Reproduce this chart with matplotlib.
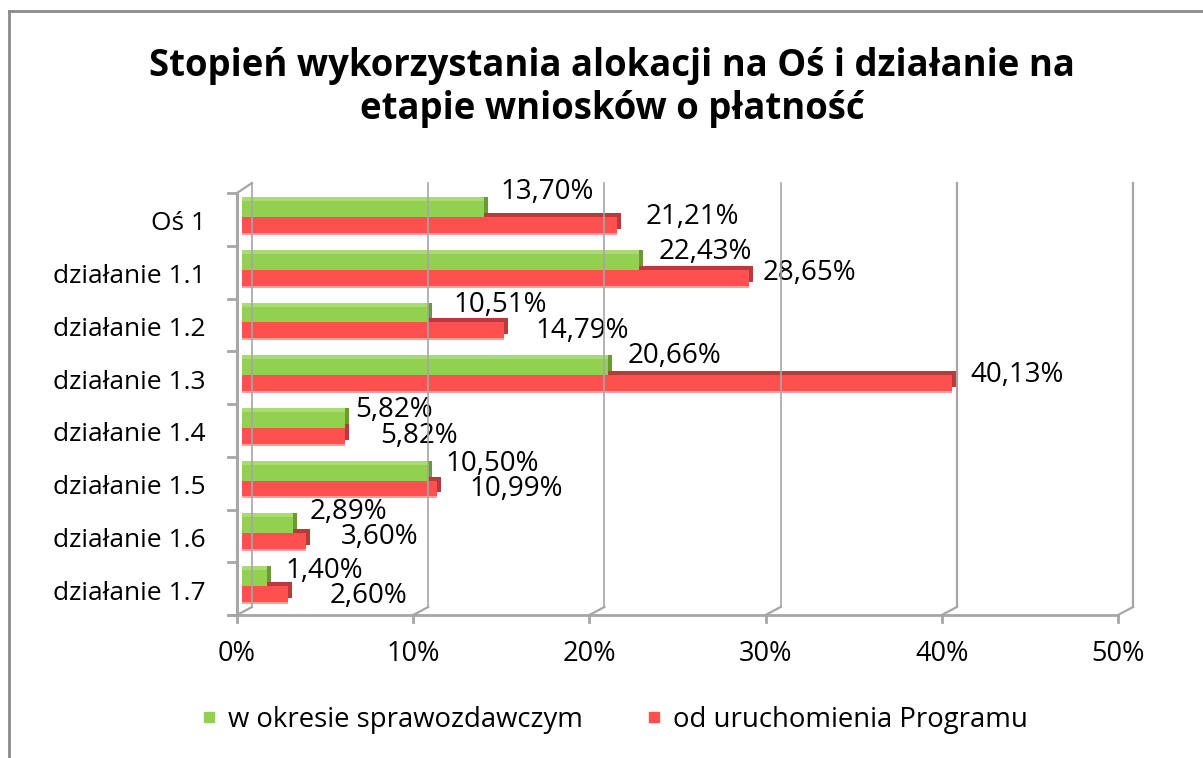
import matplotlib
matplotlib.use('Agg')
import matplotlib.pyplot as plt
from matplotlib.transforms import offset_copy, ScaledTranslation
from matplotlib.lines import Line2D

plt.rcParams['font.family'] = ['Open Sans', 'DejaVu Sans']

# ---------------- data ----------------
categories = ['Oś 1', 'działanie 1.1', 'działanie 1.2', 'działanie 1.3',
              'działanie 1.4', 'działanie 1.5', 'działanie 1.6', 'działanie 1.7']
period_values = [13.70, 22.43, 10.51, 20.66, 5.82, 10.50, 2.89, 1.40]
since_start_values = [21.21, 28.65, 14.79, 40.13, 5.82, 10.99, 3.60, 2.60]
series_names = ['w okresie sprawozdawczym', 'od uruchomienia Programu']
x_ticks = [0, 10, 20, 30, 40, 50]
x_tick_labels = ['0%', '10%', '20%', '30%', '40%', '50%']
title_lines = ['Stopień wykorzystania alokacji na Oś i działanie na',
               'etapie wniosków o płatność']

# label placement tweaks (pixels: dx right of bar end, dy downward from bar centre)
green_lbl_dx = [16, 20, 25, 20, 10, 18, 16, 19]
green_lbl_dy = [-17, -10, -10, -11, -10, -9, -13, -7]
red_lbl_dx = [28, 14, 32, 18, 35, 33, 35, 42]
red_lbl_dy = [-8, -5, 1, -8, 0, 1, -4, 2]

# ---------------- style ----------------
GREEN = '#92D050'
GREEN_TOP = '#A9DC6E'
GREEN_SIDE = '#6A9A34'
RED = '#FF5050'
RED_SIDE = '#B83A3A'
RED_LIGHT = '#FF9C9C'
GRID = '#A6A6A6'

W, H = 1203, 758
fig = plt.figure(figsize=(W / 100, H / 100), dpi=100)
fig.patch.set_facecolor('white')


def fx(x):
    return x / W


def fy(y):
    return 1 - y / H


top_px, bot_px = 190.6, 612.4
left_px, right_px = 242, 1127
ax = fig.add_axes([fx(left_px), fy(bot_px), fx(right_px) - fx(left_px), (bot_px - top_px) / H])
ax.set_xlim(0, 50)
ax.set_ylim(7.5, -0.5)
ax.patch.set_visible(False)
for s in ax.spines.values():
    s.set_visible(False)


def P(xd, yd=7.5):
    X, Y = ax.transData.transform((xd, yd))
    return X, H - Y  # screen coords (y down)


def fig_line(xs, ys, **kw):
    fig.add_artist(Line2D([fx(x) for x in xs], [fy(y) for y in ys],
                          transform=fig.transFigure, **kw))


# ---- chart border (left + top) ----
fig_line([9, 9], [11, 758], color='#8A8A8A', lw=2)
fig_line([9, 1203], [11, 11], color='#8A8A8A', lw=2)


def front(t):
    return P(t)[0] - 5 - 0.08 * t


# back-wall gridlines, floor slants and ticks
for t in x_ticks:
    xb = front(t) + 15
    fig_line([xb, xb], [183, 607], color=GRID, lw=1.6 if t in (40, 50) else 1.2, zorder=0.5)
    fig_line([front(t), xb], [615, 607], color=GRID, lw=1.6, zorder=0.5)
    fig_line([front(t), front(t)], [615, 622], color=GRID, lw=2, zorder=0.5)

# floor front line
fig_line([front(0) - 8, front(50)], [615, 615], color=GRID, lw=2, zorder=0.5)
# left wall
fig_line([front(0), front(0)], [193, 615], color=GRID, lw=2.2, zorder=0.5)
fig_line([front(0), front(0) + 15], [193, 183], color=GRID, lw=1.6, zorder=0.5)
for k in range(9):
    yk = 193 + k * 52.75
    fig_line([front(0) - 9, front(0)], [yk, yk], color=GRID, lw=2, zorder=0.5)

# ---------------- bars ----------------
bh = 0.3
y_idx = list(range(len(categories)))
y_green = [y - bh / 2 for y in y_idx]
y_red = [y + bh / 2 for y in y_idx]


def off(dx, dy):
    return offset_copy(ax.transData, fig=fig, x=dx, y=dy, units='dots')


d = 4
# red bars
ax.barh(y_red, since_start_values, height=bh, color=RED_SIDE, transform=off(d, d), zorder=2)
ax.barh(y_red, since_start_values, height=bh, color=RED_LIGHT, transform=off(0, -2), zorder=2.1)
ax.barh(y_red, since_start_values, height=bh, color=RED, zorder=2.2)
# green bars
ax.barh(y_green, period_values, height=bh, color=GREEN_SIDE, transform=off(d, d), zorder=3)
ax.barh(y_green, period_values, height=bh, color=GREEN_TOP, transform=off(0, d), zorder=3.1)
ax.barh(y_green, period_values, height=bh, color=GREEN, zorder=3.2)


def fmt(v):
    return f'{v:.2f}'.replace('.', ',') + '%'


for i in range(len(categories)):
    ax.annotate(fmt(period_values[i]), xy=(period_values[i], y_green[i]),
                xytext=(green_lbl_dx[i], -green_lbl_dy[i]), textcoords='offset pixels',
                ha='left', va='center', fontsize=20, color='black', zorder=5)
    ax.annotate(fmt(since_start_values[i]), xy=(since_start_values[i], y_red[i]),
                xytext=(red_lbl_dx[i], -red_lbl_dy[i]), textcoords='offset pixels',
                ha='left', va='center', fontsize=20, color='black', zorder=5)

# ---------------- axes labels ----------------
ax.set_yticks(y_idx)
ax.set_yticklabels(categories, fontsize=19)
ax.tick_params(axis='y', length=0, pad=26)
for lab in ax.get_yticklabels():
    lab.set_transform(lab.get_transform() + ScaledTranslation(0, -4 / 100, fig.dpi_scale_trans))

ax.set_xticks(x_ticks)
ax.set_xticklabels(x_tick_labels, fontsize=19.5)
ax.tick_params(axis='x', length=0, pad=20)
for t, lab in zip(x_ticks, ax.get_xticklabels()):
    shift = -(5 + 0.08 * t)
    lab.set_transform(lab.get_transform() + ScaledTranslation(shift / 100, 0, fig.dpi_scale_trans))

# ---------------- title ----------------
fig.text(fx(612), fy(76), title_lines[0], ha='center', va='baseline',
         fontsize=26.3, fontweight='bold')
fig.text(fx(612), fy(119), title_lines[1], ha='center', va='baseline',
         fontsize=26.3, fontweight='bold')

# ---------------- legend ----------------
handles = [Line2D([], [], marker='s', ls='', color=GREEN, markersize=6.5),
           Line2D([], [], marker='s', ls='', color=RED, markersize=6.5)]
fig.legend(handles, series_names, loc='center', bbox_to_anchor=(fx(615), fy(720)),
           ncol=2, frameon=False, fontsize=19.8, handlelength=0.5, handletextpad=0.45,
           columnspacing=2.3, borderpad=0)

fig.savefig('out.png', dpi=100, facecolor='white')
